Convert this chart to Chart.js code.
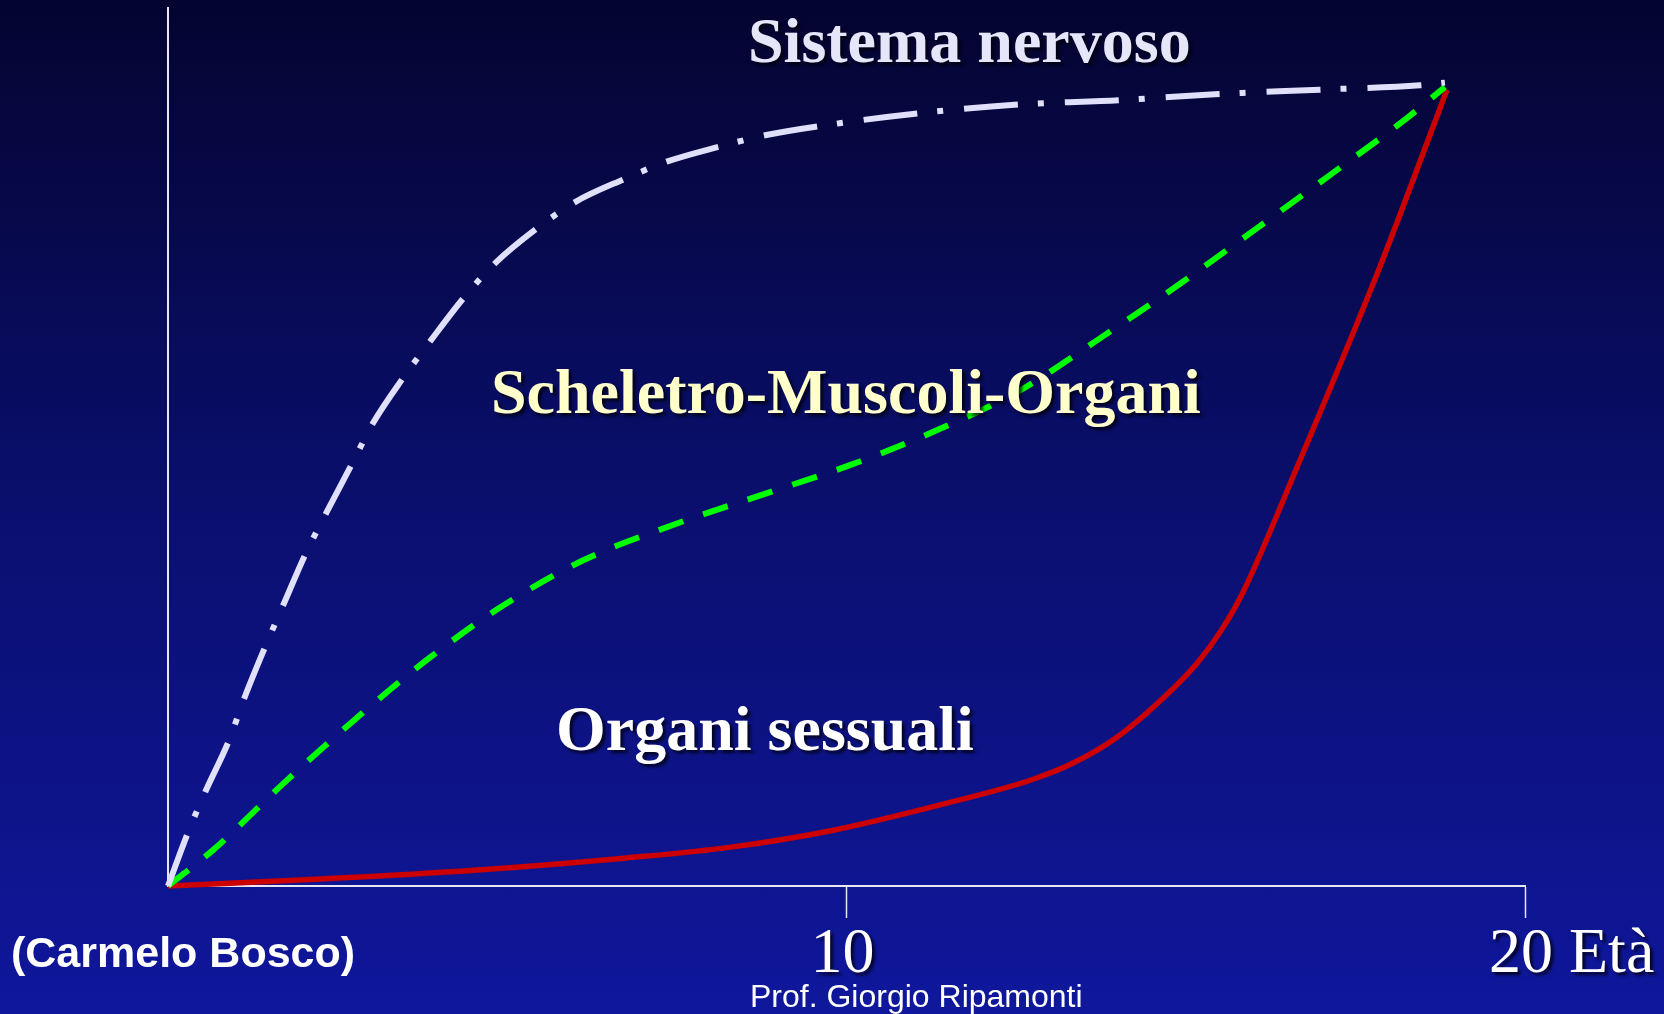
<!DOCTYPE html>
<html>
<head>
<meta charset="utf-8">
<script src="https://cdn.jsdelivr.net/npm/chart.js@4.4.1/dist/chart.umd.min.js"></script>
<style>
  html, body {
    margin: 0; padding: 0; width: 1664px; height: 1014px; overflow: hidden;
    background: linear-gradient(to bottom, #040430 0%, #0a0f6e 50%, #0f179c 100%);
  }
  #wrap { position: relative; width: 1664px; height: 1014px; }
</style>
</head>
<body>
<div id="wrap"><canvas id="growth"></canvas></div>
<script>
// Development curves by age (years) -> relative development (%)
const nervosoAge = [0, 0.29, 0.56, 0.90, 1.13, 1.43, 1.71, 2.02, 2.34, 2.70, 3.02, 3.45, 3.88, 4.36, 4.83, 5.42, 6.00, 6.72, 7.35, 8.12, 8.80, 9.92, 11.05, 12.53, 14.02, 15.49, 16.98, 18.45, 18.82];
const nervosoVal = [0, 6.0, 10.9, 16.6, 21.5, 27.2, 32.2, 37.7, 42.6, 47.9, 52.7, 57.7, 62.2, 67.0, 71.0, 74.8, 77.9, 80.5, 82.5, 84.2, 85.5, 86.9, 88.0, 89.0, 89.5, 90.2, 90.7, 91.2, 91.5];

const scheletroAge = [0, 0.68, 1.69, 2.73, 3.79, 4.91, 6.12, 7.40, 8.73, 10.04, 11.33, 12.57, 13.74, 14.90, 16.01, 17.13, 18.25, 18.82];
const scheletroVal = [0, 4.2, 11.6, 18.8, 25.6, 31.8, 37.1, 41.0, 44.5, 47.9, 51.9, 56.5, 62.4, 68.5, 74.7, 81.0, 87.4, 91.0];

const sessualiAge = [0, 2.25, 4.51, 6.76, 8.27, 9.77, 11.51, 12.73, 13.34, 13.96, 14.68, 15.17, 15.53, 15.84, 16.64, 17.86, 18.85];
const sessualiVal = [0, 0.8, 1.8, 3.2, 4.4, 6.3, 9.5, 12.1, 14.0, 16.8, 21.5, 25.4, 29.2, 33.4, 47.7, 70.5, 90.7];

const xTickValues = [10, 20];
const xTickLabels = ['10', '20 Età'];
const seriesNames = ['Sistema nervoso', 'Scheletro-Muscoli-Organi', 'Organi sessuali'];
const credit = '(Carmelo Bosco)';
const footer = 'Prof. Giorgio Ripamonti';

const toPoints = (ages, vals) => ages.map((a, i) => ({ x: a, y: vals[i] }));

// Curve captions, tick labels and footer text
const textPlugin = {
  id: 'slideText',
  afterDraw(chart) {
    const { ctx } = chart;
    const xs = chart.scales.x;
    ctx.save();
    ctx.textBaseline = 'alphabetic';
    ctx.textAlign = 'left';

    const shadowOn = () => {
      ctx.shadowColor = 'rgba(0,0,10,0.75)';
      ctx.shadowOffsetX = 3; ctx.shadowOffsetY = 3; ctx.shadowBlur = 3;
    };
    const shadowOff = () => {
      ctx.shadowColor = 'transparent'; ctx.shadowOffsetX = 0; ctx.shadowOffsetY = 0; ctx.shadowBlur = 0;
    };

    shadowOn();
    ctx.font = 'bold 64px "Liberation Serif", "Times New Roman", serif';
    ctx.fillStyle = '#E6E6FA';
    ctx.fillText(seriesNames[0], 748, 62);

    ctx.fillStyle = '#FFFFCC';
    ctx.fillText(seriesNames[1], 491, 413);

    ctx.fillStyle = '#FFFFFF';
    ctx.fillText(seriesNames[2], 556, 750);

    // tick labels: numeric part centred under its tick
    ctx.font = '64px "Liberation Serif", "Times New Roman", serif';
    ctx.fillStyle = '#FFFFFF';
    xTickValues.forEach((v, i) => {
      const label = xTickLabels[i];
      const w = ctx.measureText(String(v)).width;
      const px = xs.getPixelForValue(v);
      ctx.fillText(label, px - w / 2 - 4, 972);
    });

    shadowOff();
    ctx.font = 'bold 43px "Liberation Sans", Arial, sans-serif';
    ctx.fillText(credit, 11, 967);

    ctx.font = '32px "Liberation Sans", Arial, sans-serif';
    ctx.fillText(footer, 750, 1007);
    ctx.restore();
  }
};

new Chart(document.getElementById('growth'), {
  type: 'line',
  data: {
    datasets: [
      {
        label: seriesNames[0],
        data: toPoints(nervosoAge, nervosoVal),
        borderColor: '#E0E0FA',
        borderWidth: 6,
        borderDash: [54, 20, 6, 21],
        borderCapStyle: 'butt',
        cubicInterpolationMode: 'monotone',
        pointRadius: 0,
        fill: false,
        clip: false
      },
      {
        label: seriesNames[1],
        data: toPoints(scheletroAge, scheletroVal),
        borderColor: '#00FF00',
        borderWidth: 6,
        borderDash: [26, 21],
        borderCapStyle: 'butt',
        cubicInterpolationMode: 'monotone',
        pointRadius: 0,
        fill: false,
        clip: false
      },
      {
        label: seriesNames[2],
        data: toPoints(sessualiAge, sessualiVal),
        borderColor: '#CC0000',
        borderWidth: 5.5,
        cubicInterpolationMode: 'monotone',
        pointRadius: 0,
        fill: false,
        clip: false
      }
    ]
  },
  options: {
    responsive: true,
    maintainAspectRatio: false,
    animation: false,
    events: [],
    layout: { padding: { left: 168, top: 8, right: 139, bottom: 96 } },
    plugins: { legend: { display: false }, tooltip: { enabled: false } },
    scales: {
      x: {
        type: 'linear',
        min: 0,
        max: 20,
        afterBuildTicks: (scale) => { scale.ticks = xTickValues.map(v => ({ value: v })); },
        border: { display: true, color: '#E8E8F4', width: 2 },
        grid: {
          display: true,
          drawOnChartArea: false,
          drawTicks: true,
          tickLength: 32,
          tickColor: '#E8E8F4',
          tickWidth: 1.5
        },
        ticks: { display: false }
      },
      y: {
        type: 'linear',
        min: 0,
        max: 100,
        border: { display: true, color: '#E8E8F4', width: 2 },
        grid: { display: false, drawTicks: false },
        ticks: { display: false }
      }
    }
  },
  plugins: [textPlugin]
});
</script>
</body>
</html>
